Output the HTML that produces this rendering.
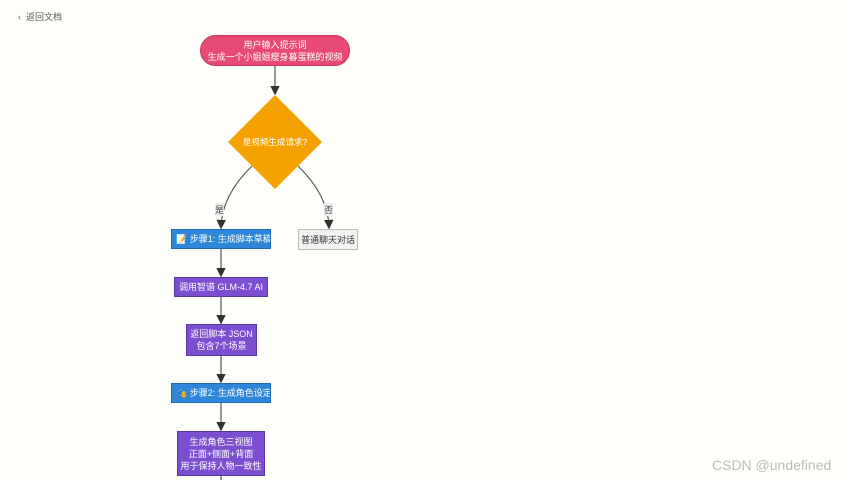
<!DOCTYPE html>
<html><head><meta charset="utf-8"><style>
body{margin:0;width:852px;height:480px;overflow:hidden;background:#fffffb;font-family:"Liberation Sans","Noto Sans CJK SC",sans-serif;position:relative}
.n{position:absolute;display:flex;align-items:center;justify-content:center;text-align:center;color:#fff;font-size:9px;line-height:12px;box-sizing:border-box}
.p{background:#7b4fd0;border:1px solid #5a35a8}
.b{background:#2e86d8;border:1px solid #1f6ab0;justify-content:flex-start;padding-left:4px;white-space:nowrap;overflow:hidden}
.l{position:absolute;font-size:9px;color:#444;background:#eee}
</style></head><body>
<div style="position:absolute;left:18px;top:10px;font-size:9px;color:#555">‹&nbsp;&nbsp;返回文档</div>
<svg width="852" height="480" style="position:absolute;left:0;top:0">
<defs><marker id="a" markerWidth="8" markerHeight="8" refX="6" refY="4" orient="auto"><path d="M0,0L8,4L0,8z" fill="#333"/></marker></defs>
<g stroke="#555" stroke-width="1.2" fill="none">
<path d="M275 66V93" marker-end="url(#a)"/>
<path d="M252 166Q222 195 221 227" marker-end="url(#a)"/>
<path d="M298 166Q328 195 329 227" marker-end="url(#a)"/>
<path d="M221 249V275" marker-end="url(#a)"/>
<path d="M221 297V322" marker-end="url(#a)"/>
<path d="M221 356V381" marker-end="url(#a)"/>
<path d="M221 403V429" marker-end="url(#a)"/>
<path d="M221 476V480"/>
</g>
<polygon points="275,95 322,142 275,189 228,142" fill="#f5a100"/>
</svg>
<div class="n" style="left:200px;top:35px;width:150px;height:31px;background:#e84a73;border-radius:16px;border:1px solid #c93461">用户输入提示词<br>生成一个小姐姐瘦身暮蛋糕的视频</div>
<div class="n" style="left:228px;top:136px;width:94px;height:12px;font-size:8.5px">是视频生成请求?</div>
<div class="l" style="left:215px;top:203px">是</div>
<div class="l" style="left:324px;top:203px">否</div>
<div class="n b" style="left:171px;top:229px;width:100px;height:20px">📝 步骤1: 生成脚本草稿</div>
<div class="n" style="left:298px;top:229px;width:60px;height:21px;background:#f2f2f2;border:1px solid #bbb;color:#333">普通聊天对话</div>
<div class="n p" style="left:174px;top:277px;width:94px;height:20px">调用智谱 GLM-4.7 AI</div>
<div class="n p" style="left:186px;top:324px;width:71px;height:32px">返回脚本 JSON<br>包含7个场景</div>
<div class="n b" style="left:171px;top:383px;width:100px;height:20px">🎭 步骤2: 生成角色设定</div>
<div class="n p" style="left:177px;top:431px;width:88px;height:45px">生成角色三视图<br>正面+侧面+背面<br>用于保持人物一致性</div>
<div style="position:absolute;left:712px;top:457px;font-size:14px;color:#bbb">CSDN @undefined</div>
</body></html>
